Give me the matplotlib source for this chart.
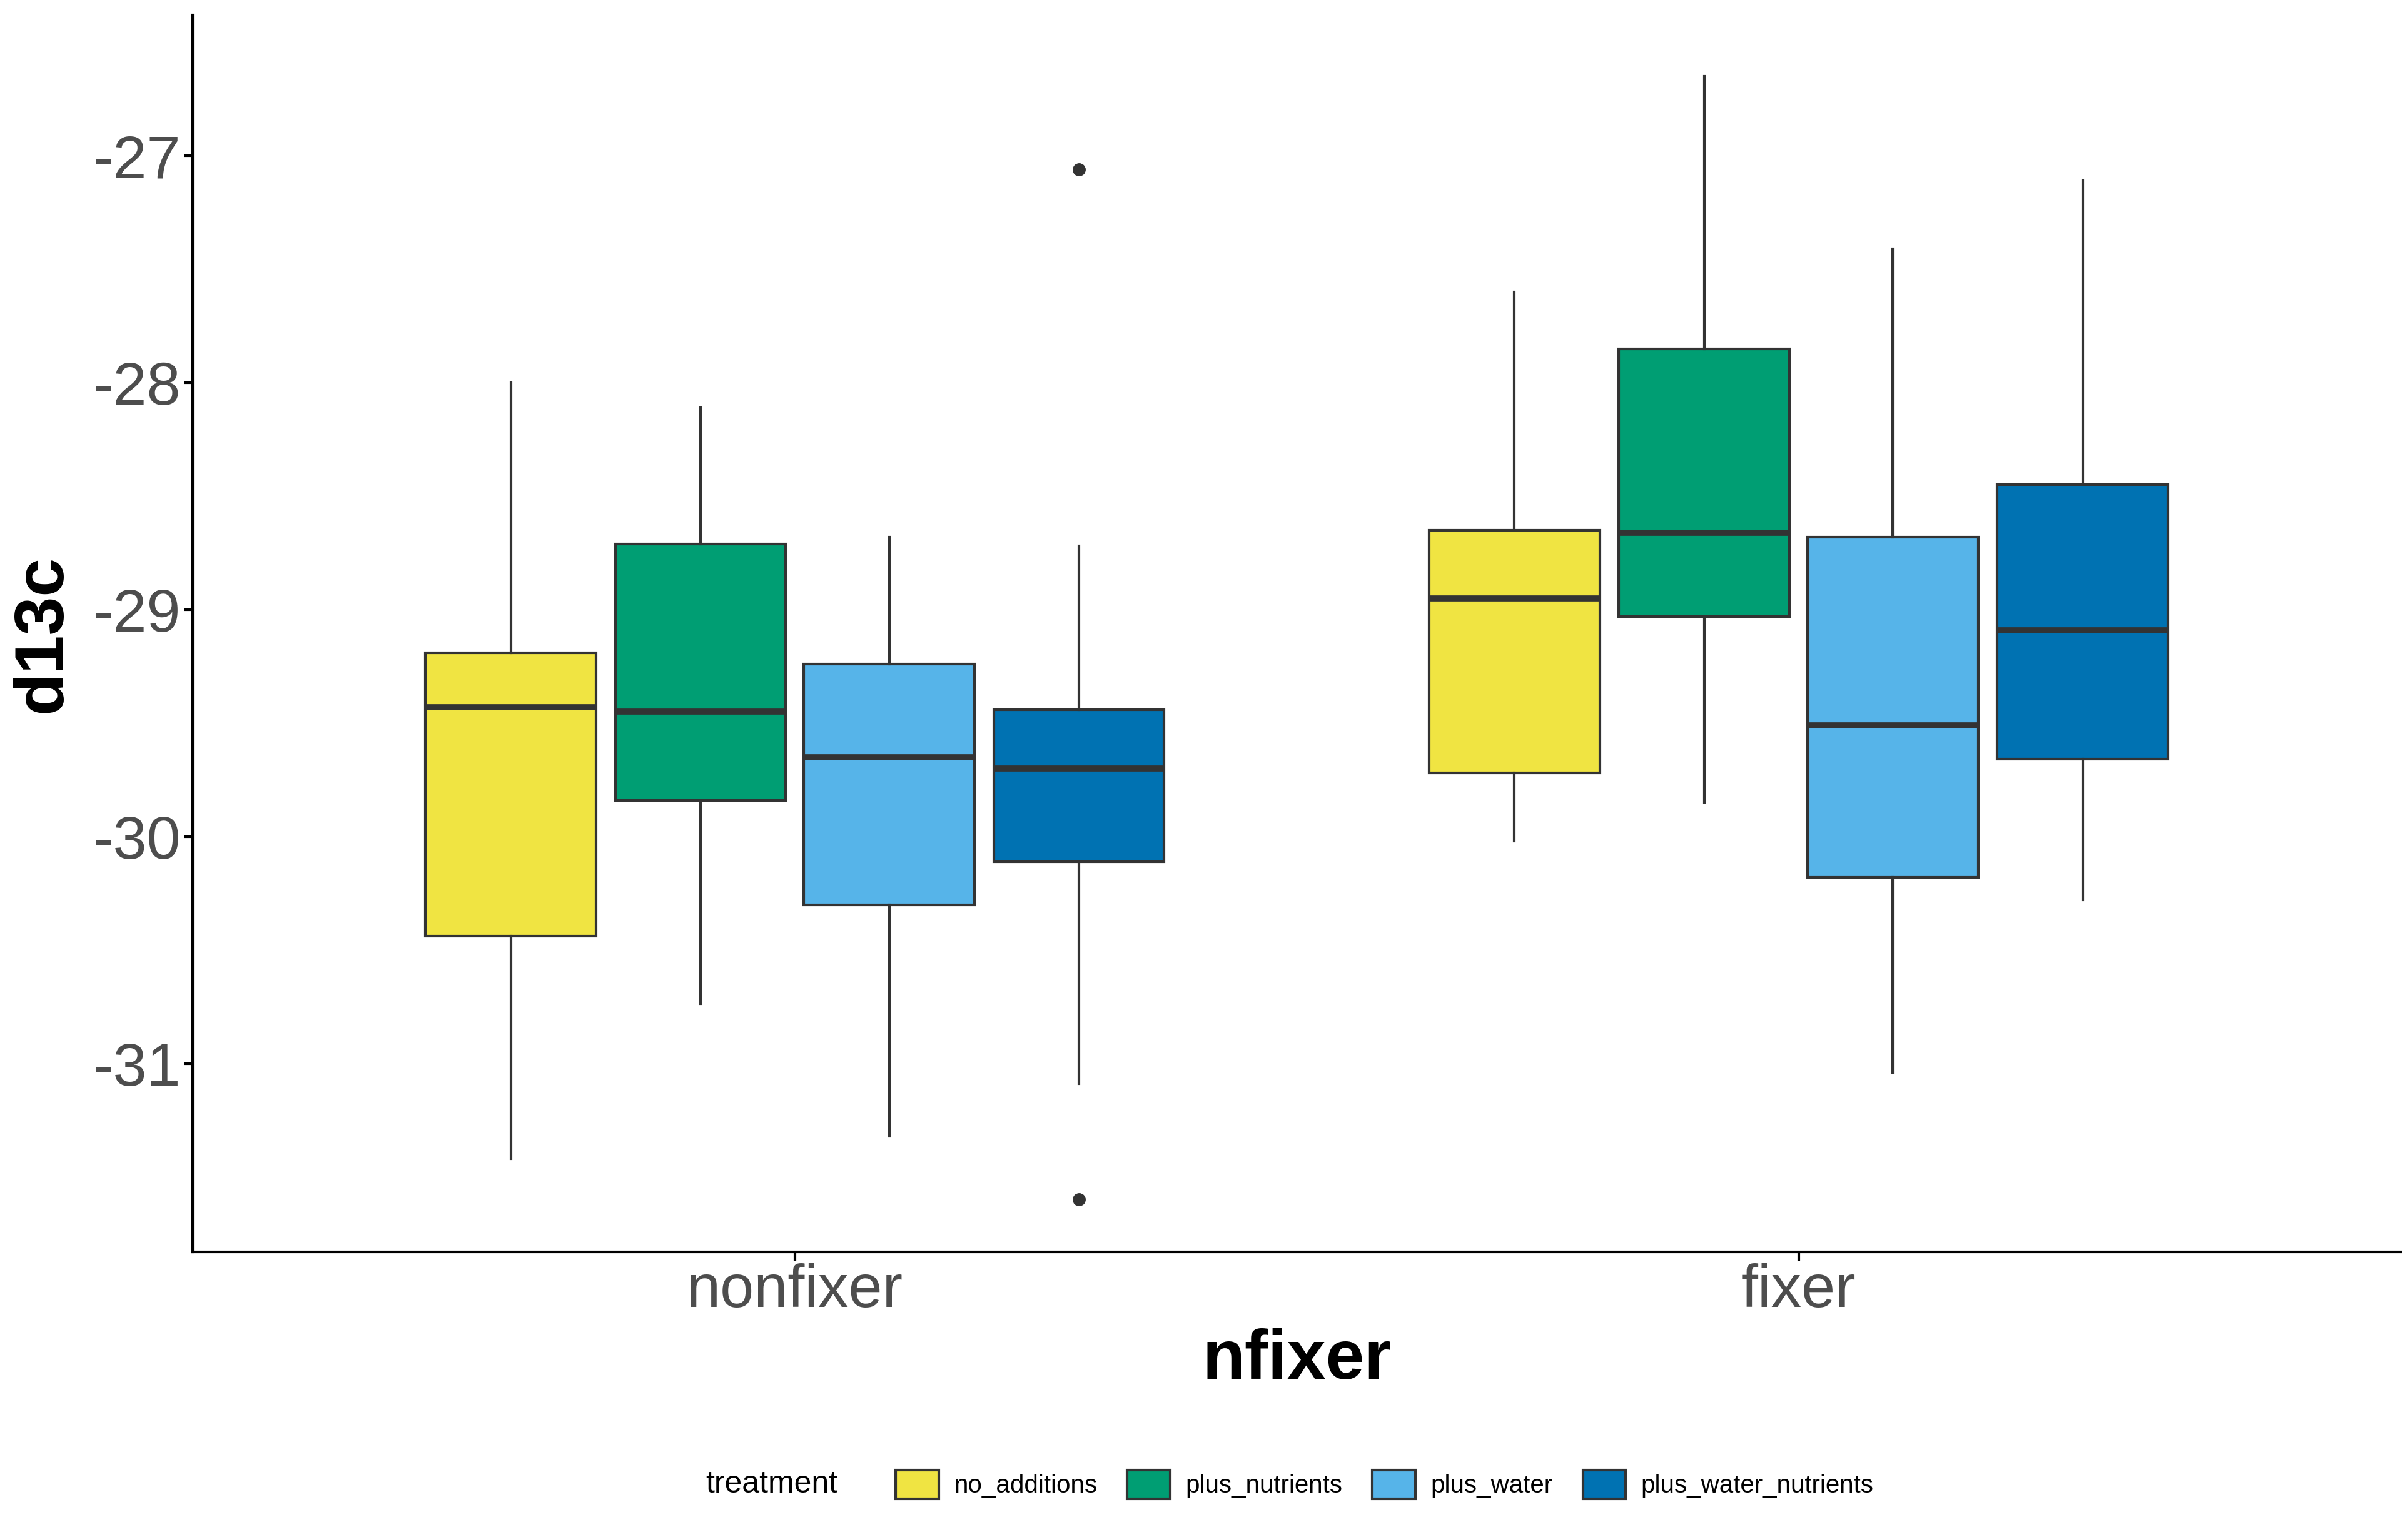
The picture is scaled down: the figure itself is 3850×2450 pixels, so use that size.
import matplotlib
matplotlib.use("Agg")
import matplotlib.pyplot as plt
from matplotlib.patches import Patch

plt.rcParams["font.family"] = ["Liberation Sans", "DejaVu Sans"]

groups = ["nonfixer", "fixer"]
treatments = ["no_additions", "plus_nutrients", "plus_water", "plus_water_nutrients"]
colors = ["#F0E442", "#009E73", "#56B4E9", "#0072B2"]

# whislo, q1, med, q3, whishi per group/treatment
nonfixer = [(-31.42, -30.44, -29.43, -29.19, -28.00),
            (-30.74, -29.84, -29.45, -28.71, -28.11),
            (-31.32, -30.30, -29.65, -29.24, -28.68),
            (-31.09, -30.11, -29.70, -29.44, -28.72)]
fixer = [(-30.02, -29.72, -28.95, -28.65, -27.60),
         (-29.85, -29.03, -28.66, -27.85, -26.65),
         (-31.04, -30.18, -29.51, -28.68, -27.41),
         (-30.28, -29.66, -29.09, -28.45, -27.11)]
fliers_nonfixer = [[], [], [], [-27.06, -31.60]]
fliers_fixer = [[], [], [], []]

offsets = [-0.283, -0.094, 0.094, 0.283]
width = 0.17

fig = plt.figure(figsize=(38.5, 24.5), dpi=100)
ax = fig.add_axes([0.080, 0.183, 0.917, 0.807])

for gi, (stats_g, fl_g) in enumerate([(nonfixer, fliers_nonfixer), (fixer, fliers_fixer)]):
    for ti, (s, fl) in enumerate(zip(stats_g, fl_g)):
        st = dict(whislo=s[0], q1=s[1], med=s[2], q3=s[3], whishi=s[4], fliers=fl)
        ax.bxp([st], positions=[gi + 1 + offsets[ti]], widths=width, patch_artist=True,
               showcaps=False,
               boxprops=dict(facecolor=colors[ti], edgecolor="#333333", linewidth=3),
               whiskerprops=dict(color="#333333", linewidth=3),
               medianprops=dict(color="#333333", linewidth=7),
               flierprops=dict(marker="o", markerfacecolor="#333333", markeredgecolor="#333333",
                               markersize=14))

ax.set_xlim(0.4, 2.6)
ax.set_ylim(-31.83, -26.38)
ax.set_xticks([1, 2])
ax.set_xticklabels(groups)
ax.set_yticks([-31, -30, -29, -28, -27])
ax.set_yticklabels(["-31", "-30", "-29", "-28", "-27"])
ax.tick_params(labelsize=70, labelcolor="#4D4D4D", length=10, width=3)
for sp in ["top", "right"]:
    ax.spines[sp].set_visible(False)
for sp in ["left", "bottom"]:
    ax.spines[sp].set_linewidth(3)
ax.set_xlabel("nfixer", fontsize=80, fontweight="bold", labelpad=10)
ax.set_ylabel("d13c", fontsize=80, fontweight="bold", labelpad=20)

handles = [Patch(facecolor=c, edgecolor="#333333", linewidth=3) for c in colors]
fig.legend(handles, treatments, loc="center", bbox_to_anchor=(0.575, 0.031), ncol=4,
           frameon=False, fontsize=29, handlelength=1.7, handleheight=1.4,
           columnspacing=1.2, handletextpad=0.6)
fig.text(0.348, 0.031, "treatment", fontsize=36, ha="right", va="center")

fig.savefig("out.png", dpi=100)
